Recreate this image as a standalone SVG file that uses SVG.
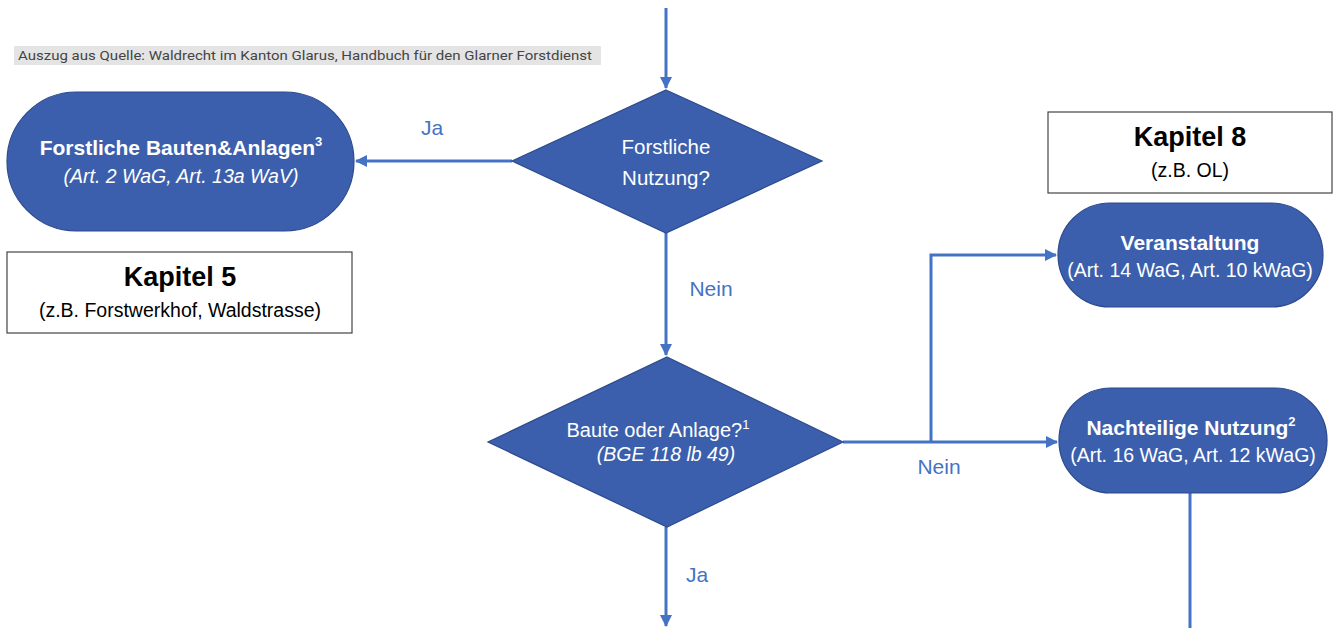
<svg xmlns="http://www.w3.org/2000/svg" width="1333" height="628" viewBox="0 0 1333 628">
<defs>
<marker id="ah" markerWidth="12" markerHeight="12" refX="11" refY="6" orient="auto" markerUnits="userSpaceOnUse">
<path d="M0,0 L12,6 L0,12 Z" fill="#4472c4"/>
</marker>
<style>
.shape{fill:#3b5fad;stroke:#2c4a8c;stroke-width:1.2}
.box{fill:#fff;stroke:#444;stroke-width:1.2}
.conn{stroke:#4472c4;stroke-width:3;fill:none}
.t{font-family:"Liberation Sans",Arial,sans-serif;fill:#fff;text-anchor:middle}
.b{font-weight:bold;font-size:21px}
.s{font-size:19.5px}
.i{font-style:italic}
.k{font-family:"Liberation Sans",Arial,sans-serif;fill:#000;text-anchor:middle}
.lbl{font-family:"Liberation Sans",Arial,sans-serif;fill:#4472c4;font-size:21px;text-anchor:middle}
</style>
</defs>
<rect width="1333" height="628" fill="#fff"/>
<g id="source">
<rect x="14" y="46" width="587" height="19" fill="#e4e4e4"/>
<text x="18" y="60" font-family="Roboto,sans-serif" font-size="13" fill="#444" textLength="574" lengthAdjust="spacingAndGlyphs">Auszug aus Quelle: Waldrecht im Kanton Glarus, Handbuch für den Glarner Forstdienst</text>
</g>
<g id="connectors">
<line class="conn" x1="666" y1="8" x2="666" y2="88" marker-end="url(#ah)"/>
<line class="conn" x1="512" y1="161" x2="356" y2="161" marker-end="url(#ah)"/>
<line class="conn" x1="666" y1="233" x2="666" y2="355" marker-end="url(#ah)"/>
<line class="conn" x1="843" y1="442" x2="1057" y2="442" marker-end="url(#ah)"/>
<polyline class="conn" points="931,442 931,255 1056,255" marker-end="url(#ah)"/>
<line class="conn" x1="666" y1="527" x2="666" y2="626" marker-end="url(#ah)"/>
<line class="conn" x1="1190" y1="493" x2="1190" y2="628"/>
<text class="lbl" x="432" y="135">Ja</text>
<text class="lbl" x="711" y="296">Nein</text>
<text class="lbl" x="939" y="474">Nein</text>
<text class="lbl" x="697" y="582">Ja</text>
</g>
<g id="forstliche-bauten">
<rect class="shape" x="7" y="92" width="347" height="139" rx="69.5"/>
<text class="t b" x="181" y="155">Forstliche Bauten&amp;Anlagen<tspan font-size="13" dy="-9">3</tspan></text>
<text class="t s i" x="181" y="183">(Art. 2 WaG, Art. 13a WaV)</text>
</g>
<g id="kapitel5">
<rect class="box" x="7" y="252" width="345" height="81"/>
<text class="k" x="180" y="286" font-size="27" font-weight="bold">Kapitel 5</text>
<text class="k" x="180" y="317" font-size="19.5">(z.B. Forstwerkhof, Waldstrasse)</text>
</g>
<g id="forstliche-nutzung">
<polygon class="shape" points="666,90 822,161 666,233 512,161"/>
<text class="t" x="666" y="154" font-size="20.5">Forstliche</text>
<text class="t" x="666" y="185" font-size="20.5">Nutzung?</text>
</g>
<g id="baute-anlage">
<polygon class="shape" points="667,357 843,442 667,527 488,442"/>
<text class="t" x="658" y="437" font-size="20">Baute oder Anlage?<tspan font-size="13" dy="-8">1</tspan></text>
<text class="t s i" x="666" y="461">(BGE 118 lb 49)</text>
</g>
<g id="kapitel8">
<rect class="box" x="1048" y="112" width="284" height="81"/>
<text class="k" x="1190" y="146" font-size="27" font-weight="bold">Kapitel 8</text>
<text class="k" x="1190" y="177" font-size="19.5">(z.B. OL)</text>
</g>
<g id="veranstaltung">
<rect class="shape" x="1058" y="203" width="265" height="104" rx="52"/>
<text class="t b" x="1190" y="250">Veranstaltung</text>
<text class="t s" x="1190" y="277">(Art. 14 WaG, Art. 10 kWaG)</text>
</g>
<g id="nachteilige-nutzung">
<rect class="shape" x="1059" y="388" width="268" height="105" rx="52"/>
<text class="t b" x="1191" y="435">Nachteilige Nutzung<tspan font-size="13" dy="-9">2</tspan></text>
<text class="t s" x="1193" y="462">(Art. 16 WaG, Art. 12 kWaG)</text>
</g>
</svg>
